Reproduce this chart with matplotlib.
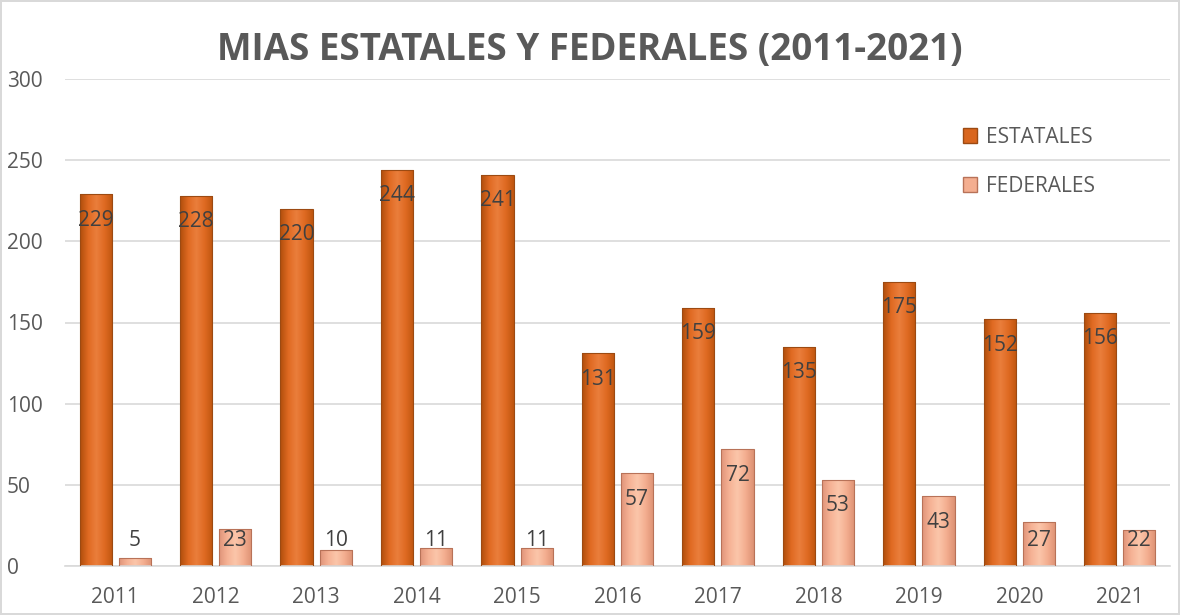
import numpy as np
import matplotlib.pyplot as plt
from matplotlib.colors import LinearSegmentedColormap
from matplotlib.patches import Patch

# Datos
anios = ['2011', '2012', '2013', '2014', '2015', '2016', '2017', '2018', '2019', '2020', '2021']
estatales = [229, 228, 220, 244, 241, 131, 159, 135, 175, 152, 156]
federales = [5, 23, 10, 11, 11, 57, 72, 53, 43, 27, 22]

plt.rcParams['font.family'] = ['Open Sans', 'DejaVu Sans']
gris = '#595959'

cmap_est = LinearSegmentedColormap.from_list('est', ['#B04E0C', '#E06A22', '#EA7E3C', '#DF6A22', '#BF560F'])
cmap_fed = LinearSegmentedColormap.from_list('fed', ['#E0957A', '#F6B295', '#FBC6AA', '#F4AE90', '#DD9274'])

fig = plt.figure(figsize=(11.8, 6.15), dpi=100)
fig.patch.set_edgecolor('#D9D9D9')
fig.patch.set_linewidth(1.5)
ax = fig.add_axes([65 / 1180, 1 - 566 / 615, 1105 / 1180, 487 / 615])

x = np.arange(len(anios))
ancho = 0.32
grad = np.linspace(0, 1, 64).reshape(1, -1)


def barras_gradiente(pos, valores, cmap, borde):
    barras = ax.bar(pos, valores, ancho, color='none', edgecolor=borde, linewidth=0.8, zorder=3)
    for b in barras:
        x0, y0 = b.get_x(), b.get_y()
        im = ax.imshow(grad, cmap=cmap, aspect='auto', zorder=2.5,
                       extent=(x0, x0 + b.get_width(), y0, y0 + b.get_height()))
        im.set_clip_path(b)
    return barras


barras_gradiente(x - 0.195, estatales, cmap_est, '#9C4A12')
barras_gradiente(x + 0.195, federales, cmap_fed, '#B87258')

# Etiquetas de datos
for i in range(len(anios)):
    for off, v in ((-0.195, estatales[i]), (0.195, federales[i])):
        ax.text(x[i] + off, max(v - 16, 16), str(v), ha='center', va='center',
                fontsize=15, color='#404040', zorder=4)

ax.set_xlim(-0.5, len(anios) - 0.5)
ax.set_ylim(0, 300)
ax.set_yticks(range(0, 301, 50))
ax.set_xticks(x)
ax.set_xticklabels(anios)
ax.grid(axis='y', color='#D9D9D9', linewidth=1.2, zorder=0)
ax.set_axisbelow(True)
for s in ['top', 'right', 'left']:
    ax.spines[s].set_visible(False)
ax.spines['bottom'].set_color('#D9D9D9')
ax.spines['bottom'].set_linewidth(1.2)
ax.tick_params(axis='both', length=0, colors=gris, labelsize=15)
ax.tick_params(axis='y', pad=42)
ax.tick_params(axis='x', pad=15)
for lbl in ax.get_yticklabels():
    lbl.set_horizontalalignment('left')

fig.text(0.5, 1 - 50 / 615, 'MIAS ESTATALES Y FEDERALES (2011-2021)', ha='center', va='center',
         fontsize=26.5, fontweight='bold', color=gris)

handles = [Patch(facecolor='#D9661E', edgecolor='#9C4A12', label='ESTATALES'),
           Patch(facecolor='#F4AE90', edgecolor='#B87258', label='FEDERALES')]
fig.legend(handles=handles, loc='upper left', bbox_to_anchor=(944 / 1180, 1 - 108 / 615),
           frameon=False, fontsize=15, labelcolor=gris, handlelength=0.7, handleheight=0.7,
           handletextpad=0.4, labelspacing=1.35)

plt.savefig('out.png', dpi=100)
